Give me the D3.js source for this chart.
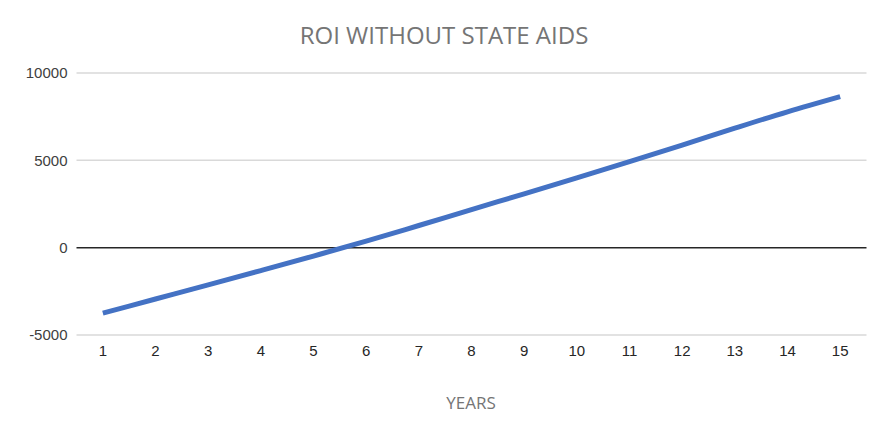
<!DOCTYPE html>
<html>
<head>
<meta charset="utf-8">
<script src="https://cdn.jsdelivr.net/npm/d3@7"></script>
<style>
  body { margin: 0; background: #fff; }
  svg { display: block; font-family: "Open Sans", sans-serif; }
</style>
</head>
<body>
<div id="chart"></div>
<script>
var years = [1, 2, 3, 4, 5, 6, 7, 8, 9, 10, 11, 12, 13, 14, 15]
var roi = [-3750, -2940, -2130, -1310, -480, 370, 1270, 2180, 3080, 3990, 4920, 5870, 6840, 7780, 8650]
var yTicks = [-5000, 0, 5000, 10000]

var width = 888, height = 434
var margin = {top: 73, right: 21.5, bottom: 99, left: 76.5}

var svg = d3.select("#chart").append("svg")
    .attr("width", width)
    .attr("height", height)

var g = svg.append("g")
    .attr("transform", "translate(" + margin.left + "," + margin.top + ")")

var w = width - margin.left - margin.right
var h = height - margin.top - margin.bottom

var x = d3.scaleBand().domain(years).range([0, w])
var y = d3.scaleLinear().domain([-5000, 10000]).range([h, 0])

// grid
g.selectAll(".grid")
    .data(yTicks.filter(function(d) { return d != 0 }))
    .enter().append("line")
    .attr("class", "grid")
    .attr("x1", 0).attr("x2", w)
    .attr("y1", function(d) { return y(d) })
    .attr("y2", function(d) { return y(d) })
    .style("stroke", "#d9d9d9")
    .style("stroke-width", 1.5)

// zero axis line
g.append("line")
    .attr("x1", 0).attr("x2", w)
    .attr("y1", y(0)).attr("y2", y(0))
    .style("stroke", "#262626")
    .style("stroke-width", 1.5)

// y labels
var yAxis = d3.axisLeft(y).tickValues(yTicks).tickSize(0).tickPadding(9)
    .tickFormat(function(d) { return String(d) })
var ya = g.append("g").call(yAxis)
ya.select(".domain").remove()
ya.selectAll("text")
    .style("font-size", "15px")
    .style("fill", "#404040")

// x labels (low position)
var xAxis = d3.axisBottom(x).tickSize(0).tickPadding(10)
var xa = g.append("g").attr("transform", "translate(0," + h + ")").call(xAxis)
xa.select(".domain").remove()
xa.selectAll("text")
    .style("font-size", "15px")
    .style("fill", "#262626")

// line
var line = d3.line()
    .x(function(d, i) { return x(years[i]) + x.bandwidth() / 2 })
    .y(function(d) { return y(d) })
    .curve(d3.curveMonotoneX)

g.append("path")
    .datum(roi)
    .attr("d", line)
    .style("fill", "none")
    .style("stroke", "#4472c4")
    .style("stroke-width", 5)
    .style("stroke-linejoin", "round")

// title
svg.append("text")
    .attr("x", 444)
    .attr("y", 44)
    .attr("text-anchor", "middle")
    .style("font-size", "24px")
    .style("fill", "#757575")
    .text("ROI WITHOUT STATE AIDS")

// axis title
svg.append("text")
    .attr("x", 471)
    .attr("y", 409)
    .attr("text-anchor", "middle")
    .style("font-size", "17px")
    .style("fill", "#757575")
    .text("YEARS")
</script>
</body>
</html>
